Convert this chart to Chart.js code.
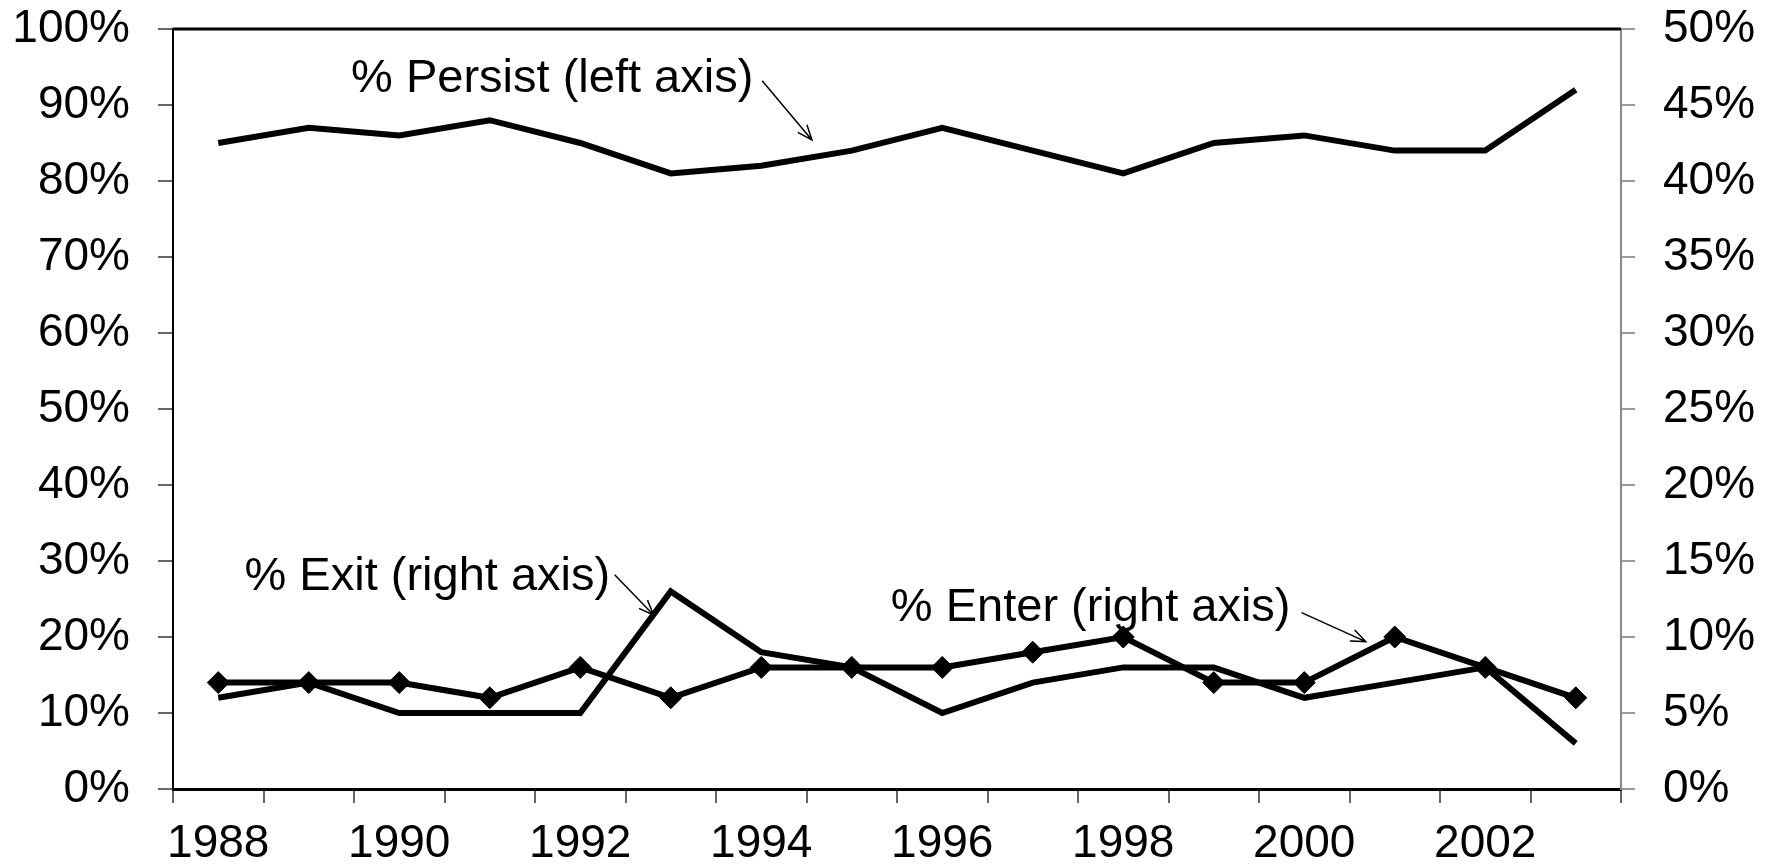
<!DOCTYPE html>
<html>
<head>
<meta charset="utf-8">
<script src="https://cdn.jsdelivr.net/npm/chart.js@4.4.1/dist/chart.umd.min.js"></script>
<style>
  html, body { margin: 0; padding: 0; background: #fff; }
  #wrap { width: 1775px; height: 867px; position: relative; }
</style>
</head>
<body>
<div id="wrap"><canvas id="myChart"></canvas></div>
<script>
// data
const years = ['1988', '1989', '1990', '1991', '1992', '1993', '1994', '1995',
               '1996', '1997', '1998', '1999', '2000', '2001', '2002', '2003'];
const persistPct = [85, 87, 86, 88, 85, 81, 82, 84, 87, 84, 81, 85, 86, 84, 84, 92];   // left axis
const exitPct    = [6, 7, 5, 5, 5, 13, 9, 8, 5, 7, 8, 8, 6, 7, 8, 3];                  // right axis
const enterPct   = [7, 7, 7, 6, 8, 6, 8, 8, 8, 9, 10, 7, 7, 10, 8, 6];                 // right axis

// text callouts, anchored in data units (x = category index, y = axis value)
const notes = [
    { text: '% Persist (left axis)', axis: 'y',  at: [3.69, 93.4], tail: [6.01, 93.2], tip: [6.56, 85.4] },
    { text: '% Exit (right axis)',   axis: 'y2', at: [2.31, 13.95], tail: [4.38, 14.1], tip: [4.81, 11.45] },
    { text: '% Enter (right axis)',  axis: 'y2', at: [9.64, 11.9], tail: [11.97, 11.6], tip: [12.68, 9.7] }
];

const FONT = '"Liberation Sans", Arial, sans-serif';

const notesPlugin = {
    id: 'notes',
    beforeDatasetsDraw(chart) {
        // frame line along the top of the plot
        const ctx = chart.ctx;
        const a = chart.chartArea;
        ctx.save();
        ctx.strokeStyle = '#000';
        ctx.lineWidth = 3;
        ctx.beginPath();
        ctx.moveTo(a.left, a.top);
        ctx.lineTo(a.right, a.top);
        ctx.stroke();
        ctx.restore();
    },
    afterDatasetsDraw(chart) {
        const ctx = chart.ctx;
        const xs = chart.scales.x;
        ctx.save();
        notes.forEach(n => {
            const ys = chart.scales[n.axis];
            ctx.font = '47px ' + FONT;
            ctx.fillStyle = '#000';
            ctx.textAlign = 'center';
            ctx.textBaseline = 'middle';
            ctx.fillText(n.text, xs.getPixelForValue(n.at[0]), ys.getPixelForValue(n.at[1]));

            const x1 = xs.getPixelForValue(n.tail[0]), y1 = ys.getPixelForValue(n.tail[1]);
            const x2 = xs.getPixelForValue(n.tip[0]),  y2 = ys.getPixelForValue(n.tip[1]);
            ctx.strokeStyle = '#000';
            ctx.lineWidth = 1.5;
            ctx.beginPath();
            ctx.moveTo(x1, y1);
            ctx.lineTo(x2, y2);
            const ang = Math.atan2(y2 - y1, x2 - x1);
            const len = 16, spread = 0.38;
            ctx.moveTo(x2 - len * Math.cos(ang - spread), y2 - len * Math.sin(ang - spread));
            ctx.lineTo(x2, y2);
            ctx.lineTo(x2 - len * Math.cos(ang + spread), y2 - len * Math.sin(ang + spread));
            ctx.stroke();
        });
        ctx.restore();
    }
};

// fixed axis sizes so the plot box sits where the original one does
function fitVertical(width) {
    return s => {
        s.width = width;
        s.paddingTop = 0;
        s.paddingBottom = 0;
    };
}

function mainEvent() {
    const ctx = document.querySelector('#myChart');

    new Chart(ctx, {
        type: 'line',
        data: {
            labels: years,
            datasets: [
                {
                    label: '% Persist',
                    data: persistPct,
                    yAxisID: 'y',
                    borderColor: '#000',
                    borderWidth: 6,
                    pointRadius: 0,
                    tension: 0
                },
                {
                    label: '% Exit',
                    data: exitPct,
                    yAxisID: 'y2',
                    borderColor: '#000',
                    borderWidth: 6,
                    pointRadius: 0,
                    tension: 0
                },
                {
                    label: '% Enter',
                    data: enterPct,
                    yAxisID: 'y2',
                    borderColor: '#000',
                    borderWidth: 6,
                    pointStyle: 'rectRot',
                    pointRadius: 11,
                    pointBackgroundColor: '#000',
                    pointBorderColor: '#000',
                    pointBorderWidth: 1,
                    tension: 0
                }
            ]
        },
        options: {
            responsive: true,
            maintainAspectRatio: false,
            animation: false,
            layout: { padding: { top: 29, left: 0, right: 0, bottom: 0 } },
            plugins: {
                legend: { display: false },
                tooltip: { enabled: false },
                title: { display: false }
            },
            scales: {
                x: {
                    type: 'category',
                    offset: true,
                    afterFit: s => { s.height = 78; },
                    border: { color: '#000', width: 3 },
                    grid: { offset: true, drawOnChartArea: false, drawTicks: true, tickLength: 14, tickColor: '#666', lineWidth: 2 },
                    ticks: {
                        autoSkip: false,
                        maxRotation: 0,
                        padding: 14,
                        color: '#000',
                        font: { family: FONT, size: 46 },
                        callback: (v, i) => (i % 2 === 0 ? years[i] : '')
                    }
                },
                y: {
                    position: 'left',
                    min: 0,
                    max: 100,
                    afterFit: fitVertical(173),
                    border: { color: '#000', width: 2 },
                    grid: { drawOnChartArea: false, drawTicks: true, tickLength: 15, tickColor: '#666', lineWidth: 2 },
                    ticks: {
                        stepSize: 10,
                        padding: 28,
                        color: '#000',
                        font: { family: FONT, size: 46 },
                        callback: v => v + '%'
                    }
                },
                y2: {
                    position: 'right',
                    min: 0,
                    max: 50,
                    afterFit: fitVertical(154),
                    border: { color: '#888', width: 2 },
                    grid: { drawOnChartArea: false, drawTicks: true, tickLength: 14, tickColor: '#999', lineWidth: 2 },
                    ticks: {
                        stepSize: 5,
                        padding: 28,
                        color: '#000',
                        font: { family: FONT, size: 46 },
                        callback: v => v + '%'
                    }
                }
            }
        },
        plugins: [notesPlugin]
    });
}

document.addEventListener('DOMContentLoaded', () => mainEvent());
</script>
</body>
</html>
